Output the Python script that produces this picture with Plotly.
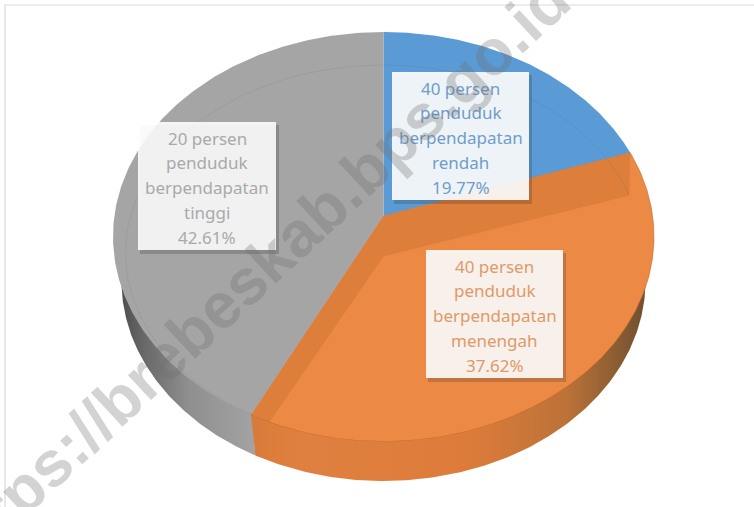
import numpy as np
import plotly.graph_objects as go

# ---- data ----
category_lines = [
    ["40 persen", "penduduk", "berpendapatan", "rendah"],
    ["40 persen", "penduduk", "berpendapatan", "menengah"],
    ["20 persen", "penduduk", "berpendapatan", "tinggi"],
]
shares = [19.77, 37.62, 42.61]
watermark = "https://brebeskab.bps.go.id"

# ---- styles ----
TOP = ["#5B9BD5", "#EC8A45", "#A5A5A5"]
BAND = "#DE7E3B"
TXT = ["#6F9DCB", "#DF9A68", "#A9A9A9"]
BOX = ["rgba(255,255,255,0.90)", "rgba(255,255,255,0.89)", "rgba(255,255,255,0.88)"]
BOX_POS = [(392, 72, 529, 200), (426, 250, 563, 378), (138, 122, 276, 250)]

# ---- projected pie geometry ----
CX = 383.5
OUTER = dict(cy=236.5, rx=270.5, ry=204.5, k=0.10)
INNER = dict(cy=253.0, rx=258.0, ry=188.0, k=-0.02)
LOWER = dict(cy=281.0, rx=262.0, ry=200.0, k=0.10)


def project(deg, g):
    t = np.radians(deg)
    s, c = np.sin(t), np.cos(t)
    k = g["k"]
    d = 1 + k * c
    u = s * np.sqrt(1 - k * k) / d
    v = (c + k) / d
    return CX + g["rx"] * u, g["cy"] - g["ry"] * v


def centre(g):
    return CX, g["cy"] - g["ry"] * g["k"]


def arc(a, b, g):
    return project(np.linspace(a, b, 200), g)


edges = np.concatenate([[0], np.cumsum(shares)]) * 3.6

fig = go.Figure()


def add_poly(x, y, color=None, line=None, gradient=None):
    kw = dict(x=list(x), y=list(y), mode="lines", fill="toself", hoverinfo="skip",
              showlegend=False)
    kw["line"] = dict(width=line[1], color=line[0]) if line else dict(width=0, color="rgba(0,0,0,0)")
    if gradient:
        kw["fillgradient"] = dict(type="horizontal", colorscale=gradient)
    else:
        kw["fillcolor"] = color
    fig.add_trace(go.Scatter(**kw))


seam = project(edges[2], OUTER)

# side wall: grey from its front seam round to the left, orange from the right to the seam
gx, gy = arc(edges[2], 270, LOWER)
add_poly(np.r_[gx, 200, seam[0] + 1], np.r_[gy, 260, seam[1]],
         gradient=[[0, "#4F4F4F"], [0.18, "#6A6A6A"], [0.5, "#8F8F8F"], [1, "#A3A3A3"]])
ox, oy = arc(92, edges[2], LOWER)
add_poly(np.r_[ox, seam[0], CX], np.r_[oy, seam[1], 260],
         gradient=[[0, "#D67A3A"], [0.05, "#DC7D3B"], [0.12, "#E08040"], [0.55, "#DD7C3A"], [0.8, "#BC7238"], [1, "#6E5030"]])

# top faces
for i, g_color in enumerate(TOP):
    x, y = arc(edges[i], edges[i + 1], OUTER)
    ax, ay = centre(OUTER)
    add_poly(np.r_[ax, x, ax], np.r_[ay, y, ay], color=g_color,
             line=("rgba(185,100,40,0.7)", 0.8) if i == 1 else None)

# orange bevel and inner face
ax, ay = centre(OUTER)
ix, iy = centre(INNER)
p1 = project(edges[1], OUTER)
p2 = project(edges[2], OUTER)
q1 = project(edges[1], INNER)
q2 = project(edges[2], INNER)
add_poly([ax, p1[0], q1[0], ix, q2[0], p2[0], ax], [ay, p1[1], q1[1], iy, q2[1], p2[1], ay], color=BAND)
x, y = arc(edges[1], edges[2], INNER)
add_poly(np.r_[ix, x, ix], np.r_[iy, y, iy], color="#EC8A45")

# faint inner rim on the blue and grey faces
for i, c in [(0, "rgba(60,110,165,0.25)"), (2, "rgba(130,130,130,0.3)")]:
    x, y = arc(edges[i], edges[i + 1], INNER)
    fig.add_trace(go.Scatter(x=list(x), y=list(y), mode="lines", hoverinfo="skip", showlegend=False,
                             line=dict(color=c, width=0.8)))

# frame and label boxes
shapes = [dict(type="rect", x0=5, y0=5, x1=780, y1=540, line=dict(color="#D9D9D9", width=1.2),
               fillcolor="rgba(0,0,0,0)", layer="below")]
for (x0, y0, x1, y1), fc in zip(BOX_POS, BOX):
    shapes.append(dict(type="rect", x0=x0 + 2, y0=y0 + 3, x1=x1 + 3, y1=y1 + 4, line=dict(width=0),
                       fillcolor="rgba(40,40,40,0.22)", layer="above"))
    shapes.append(dict(type="rect", x0=x0, y0=y0, x1=x1, y1=y1, line=dict(width=0),
                       fillcolor=fc, layer="above"))

# labels, one annotation per line (line pitch wider than plotly's <br>)
annotations = []
for lines, share, pos, col in zip(category_lines, shares, BOX_POS, TXT):
    rows = lines + [f"{share:.2f}%"]
    xm = (pos[0] + pos[2]) / 2
    for j, row in enumerate(rows):
        annotations.append(dict(x=xm, y=pos[1] + 16 + j * 24.8, text=row, showarrow=False,
                                xref="x", yref="y", xanchor="center", yanchor="middle",
                                font=dict(family="Noto Sans", size=17, color=col)))

annotations.append(dict(x=254, y=274, text=f"<b>{watermark}</b>", showarrow=False, textangle=-43,
                        xref="x", yref="y", xanchor="center", yanchor="middle",
                        font=dict(family="Liberation Sans", size=64, color="rgba(110,110,110,0.30)")))

fig.update_layout(
    width=754, height=507, margin=dict(l=0, r=0, t=0, b=0),
    paper_bgcolor="white", plot_bgcolor="white",
    xaxis=dict(range=[0, 754], visible=False, fixedrange=True),
    yaxis=dict(range=[507, 0], visible=False, fixedrange=True),
    shapes=shapes, annotations=annotations, showlegend=False,
)
fig.write_html("out.html", config=dict(displayModeBar=False),
               post_script="document.body.style.margin='0';document.body.style.overflow='hidden';")
